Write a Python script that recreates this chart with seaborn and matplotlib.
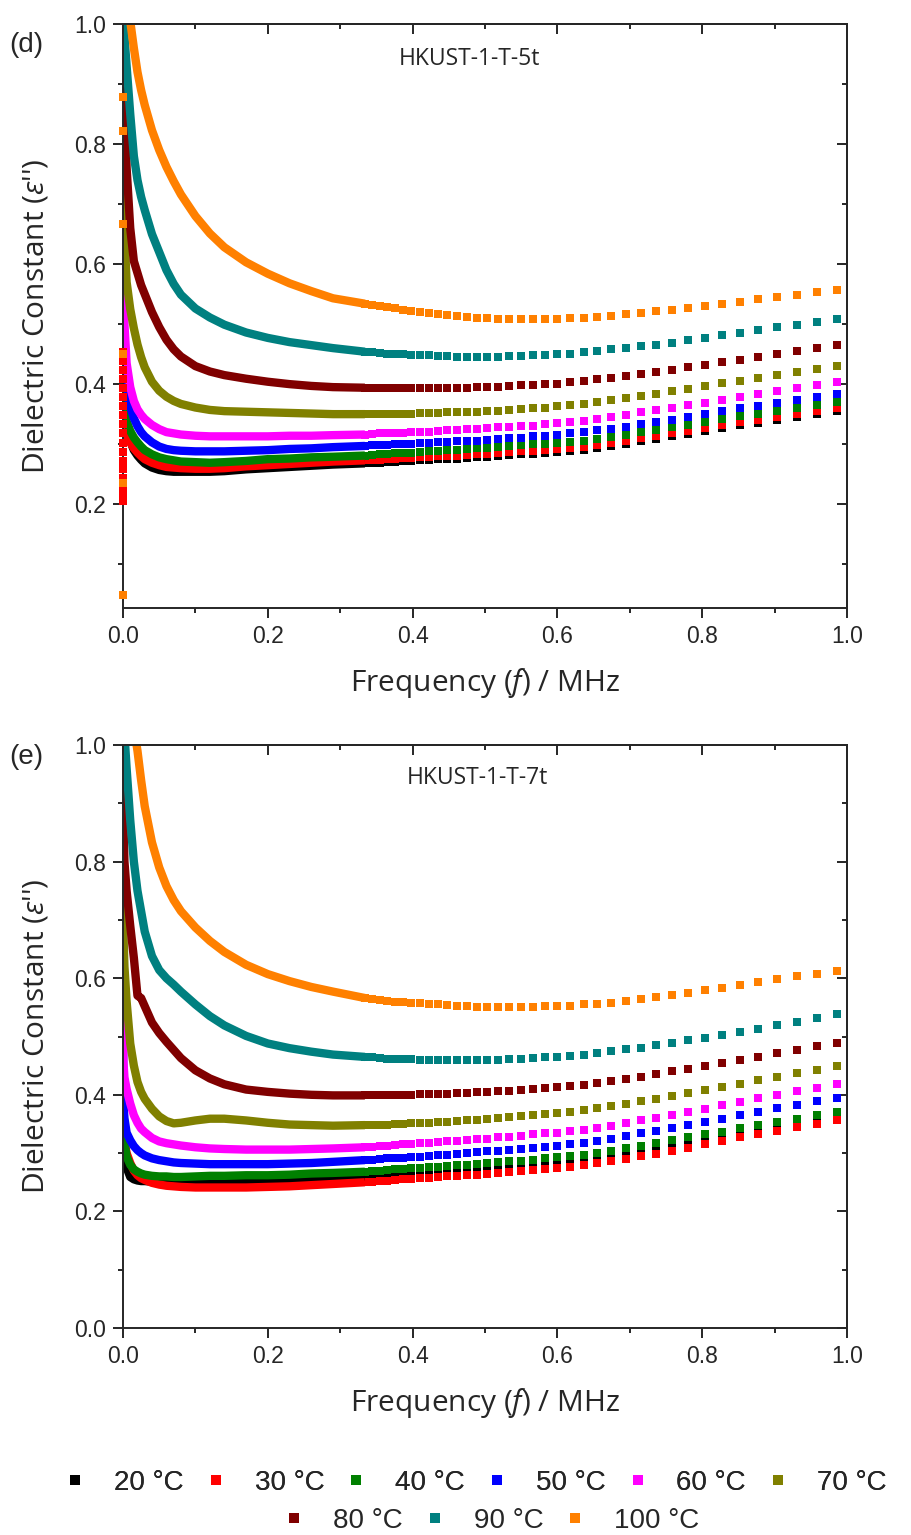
import matplotlib
matplotlib.use("Agg")
import matplotlib.pyplot as plt
import seaborn as sns
from matplotlib.lines import Line2D
from matplotlib.ticker import MultipleLocator

# ---------------- data ----------------
TEMPS = ["20 °C", "30 °C", "40 °C", "50 °C", "60 °C", "70 °C", "80 °C", "90 °C", "100 °C"]
COLORS = ["#000000", "#FF0000", "#008000", "#0000FF", "#FF00FF",
          "#808000", "#800000", "#008080", "#FF8000"]

# dense low-frequency part (MHz) – points overlap into a continuous band
FREQ_LOW = [0.0001, 0.0005, 0.002, 0.005, 0.01, 0.015, 0.02, 0.025, 0.03, 0.04, 0.05,
            0.06, 0.07, 0.08, 0.10, 0.12, 0.14, 0.17, 0.20, 0.23, 0.26, 0.29]
# sparse high-frequency part (MHz) – individually visible square markers
FREQ_HIGH = [0.3341, 0.3440, 0.3543, 0.3648, 0.3756, 0.3868, 0.3983, 0.4101, 0.4223, 0.4348,
             0.4477, 0.4610, 0.4747, 0.4888, 0.5033, 0.5183, 0.5337, 0.5495, 0.5658, 0.5826,
             0.5999, 0.6178, 0.6361, 0.6550, 0.6744, 0.6945, 0.7151, 0.7363, 0.7582, 0.7807,
             0.8039, 0.8278, 0.8524, 0.8777, 0.9038, 0.9306, 0.9582, 0.9867]

# ---- panel (d) HKUST-1-T-5t ----
d20_low = [0.31, 0.318, 0.322, 0.318, 0.305, 0.290, 0.281, 0.274, 0.268, 0.261, 0.257, 0.255, 0.254, 0.254, 0.254, 0.254, 0.255, 0.258, 0.260, 0.262, 0.264, 0.266]
d30_low = [0.36, 0.345, 0.33, 0.316, 0.303, 0.293, 0.286, 0.280, 0.275, 0.269, 0.265, 0.262, 0.261, 0.260, 0.259, 0.259, 0.260, 0.263, 0.265, 0.267, 0.269, 0.271]
d40_low = [0.43, 0.40, 0.37, 0.338, 0.322, 0.311, 0.303, 0.296, 0.290, 0.283, 0.278, 0.275, 0.273, 0.271, 0.270, 0.269, 0.270, 0.272, 0.275, 0.276, 0.278, 0.279]
d50_low = [0.60, 0.46, 0.42, 0.39, 0.362, 0.343, 0.330, 0.320, 0.313, 0.303, 0.296, 0.292, 0.290, 0.289, 0.288, 0.288, 0.288, 0.289, 0.290, 0.292, 0.293, 0.295]
d60_low = [0.75, 0.62, 0.50, 0.435, 0.395, 0.372, 0.358, 0.349, 0.342, 0.332, 0.325, 0.320, 0.318, 0.316, 0.314, 0.313, 0.313, 0.313, 0.313, 0.314, 0.314, 0.315]
d70_low = [0.95, 0.75, 0.65, 0.57, 0.525, 0.493, 0.466, 0.445, 0.428, 0.404, 0.389, 0.379, 0.372, 0.367, 0.361, 0.357, 0.355, 0.354, 0.353, 0.352, 0.351, 0.350]
d80_low = [1.10, 1.02, 0.88, 0.76, 0.66, 0.605, 0.585, 0.565, 0.55, 0.52, 0.495, 0.474, 0.458, 0.446, 0.430, 0.421, 0.415, 0.409, 0.404, 0.400, 0.397, 0.395]
d90_low = [1.08, 1.02, 0.98, 0.93, 0.85, 0.78, 0.74, 0.712, 0.69, 0.65, 0.62, 0.59, 0.567, 0.549, 0.526, 0.511, 0.499, 0.486, 0.477, 0.470, 0.465, 0.460]
d100_low = [1.6, 1.45, 1.25, 1.1, 1.005, 0.96, 0.92, 0.89, 0.865, 0.823, 0.79, 0.762, 0.738, 0.716, 0.680, 0.651, 0.628, 0.603, 0.584, 0.568, 0.555, 0.543]

d20_high = [0.268, 0.269, 0.269, 0.270, 0.271, 0.272, 0.272, 0.273, 0.274, 0.275, 0.275, 0.276, 0.277, 0.278, 0.279, 0.281, 0.282, 0.283, 0.284, 0.286, 0.287, 0.289, 0.291, 0.294, 0.297, 0.301, 0.305, 0.309, 0.313, 0.317, 0.322, 0.327, 0.332, 0.336, 0.341, 0.346, 0.351, 0.356]
d30_high = [0.273, 0.274, 0.274, 0.275, 0.276, 0.277, 0.277, 0.278, 0.279, 0.280, 0.280, 0.281, 0.282, 0.283, 0.284, 0.286, 0.287, 0.288, 0.289, 0.291, 0.292, 0.294, 0.296, 0.299, 0.302, 0.306, 0.310, 0.314, 0.318, 0.322, 0.327, 0.332, 0.337, 0.341, 0.346, 0.351, 0.356, 0.361]
d40_high = [0.281, 0.282, 0.283, 0.284, 0.285, 0.285, 0.286, 0.287, 0.288, 0.289, 0.290, 0.291, 0.292, 0.293, 0.294, 0.296, 0.297, 0.298, 0.300, 0.301, 0.302, 0.304, 0.306, 0.309, 0.312, 0.316, 0.320, 0.324, 0.328, 0.332, 0.337, 0.342, 0.347, 0.351, 0.356, 0.361, 0.366, 0.371]
d50_high = [0.297, 0.298, 0.299, 0.299, 0.300, 0.300, 0.301, 0.302, 0.302, 0.303, 0.304, 0.305, 0.305, 0.306, 0.307, 0.309, 0.310, 0.311, 0.313, 0.314, 0.316, 0.318, 0.320, 0.323, 0.326, 0.329, 0.333, 0.337, 0.341, 0.345, 0.350, 0.355, 0.360, 0.364, 0.369, 0.374, 0.379, 0.384]
d60_high = [0.316, 0.317, 0.318, 0.318, 0.319, 0.319, 0.320, 0.321, 0.321, 0.322, 0.323, 0.324, 0.325, 0.326, 0.327, 0.328, 0.329, 0.330, 0.331, 0.333, 0.335, 0.337, 0.339, 0.342, 0.345, 0.349, 0.353, 0.357, 0.361, 0.365, 0.369, 0.374, 0.379, 0.384, 0.389, 0.394, 0.399, 0.404]
d70_high = [0.350, 0.350, 0.350, 0.351, 0.351, 0.351, 0.351, 0.352, 0.352, 0.352, 0.353, 0.353, 0.354, 0.354, 0.355, 0.356, 0.357, 0.359, 0.360, 0.361, 0.363, 0.365, 0.367, 0.370, 0.373, 0.377, 0.381, 0.384, 0.388, 0.392, 0.397, 0.402, 0.406, 0.411, 0.416, 0.421, 0.426, 0.431]
d80_high = [0.394, 0.394, 0.393, 0.393, 0.393, 0.393, 0.393, 0.393, 0.393, 0.393, 0.394, 0.394, 0.394, 0.395, 0.395, 0.396, 0.397, 0.398, 0.399, 0.400, 0.401, 0.403, 0.405, 0.408, 0.411, 0.414, 0.417, 0.420, 0.424, 0.428, 0.432, 0.437, 0.441, 0.445, 0.450, 0.455, 0.460, 0.466]
d90_high = [0.454, 0.453, 0.452, 0.451, 0.450, 0.450, 0.449, 0.449, 0.448, 0.447, 0.447, 0.446, 0.446, 0.446, 0.446, 0.446, 0.447, 0.447, 0.448, 0.449, 0.450, 0.451, 0.453, 0.455, 0.458, 0.460, 0.463, 0.466, 0.469, 0.473, 0.477, 0.482, 0.486, 0.490, 0.495, 0.499, 0.504, 0.509]
d100_high = [0.534, 0.532, 0.530, 0.528, 0.526, 0.524, 0.522, 0.520, 0.518, 0.516, 0.515, 0.513, 0.512, 0.511, 0.510, 0.509, 0.508, 0.508, 0.508, 0.508, 0.509, 0.510, 0.511, 0.512, 0.514, 0.516, 0.518, 0.521, 0.524, 0.527, 0.530, 0.534, 0.537, 0.541, 0.545, 0.549, 0.553, 0.557]

# stray lowest-frequency points sitting on the y axis in panel (d)
d30_axis = [0.205, 0.215, 0.228, 0.243, 0.258, 0.272, 0.287, 0.302, 0.318, 0.333, 0.348, 0.363, 0.378, 0.393, 0.408, 0.423, 0.438, 0.453]
d100_axis = [0.878, 0.822, 0.667, 0.45, 0.235, 0.048]

# ---- panel (e) HKUST-1-T-7t ----
e20_low = [0.36, 0.33, 0.30, 0.275, 0.259, 0.255, 0.253, 0.252, 0.252, 0.251, 0.251, 0.250, 0.250, 0.250, 0.250, 0.250, 0.251, 0.251, 0.252, 0.254, 0.256, 0.258]
e30_low = [0.37, 0.34, 0.32, 0.30, 0.283, 0.270, 0.262, 0.257, 0.254, 0.249, 0.246, 0.244, 0.243, 0.242, 0.241, 0.241, 0.241, 0.241, 0.242, 0.243, 0.245, 0.247]
e40_low = [0.42, 0.345, 0.32, 0.294, 0.280, 0.272, 0.268, 0.265, 0.263, 0.261, 0.260, 0.260, 0.259, 0.259, 0.260, 0.261, 0.261, 0.262, 0.262, 0.263, 0.265, 0.266]
e50_low = [0.50, 0.385, 0.36, 0.335, 0.322, 0.312, 0.305, 0.300, 0.296, 0.291, 0.288, 0.286, 0.284, 0.283, 0.282, 0.281, 0.281, 0.281, 0.281, 0.282, 0.283, 0.285]
e60_low = [0.70, 0.459, 0.43, 0.41, 0.385, 0.365, 0.352, 0.342, 0.336, 0.326, 0.320, 0.317, 0.315, 0.313, 0.310, 0.308, 0.307, 0.306, 0.306, 0.306, 0.307, 0.308]
e70_low = [0.75, 0.68, 0.62, 0.56, 0.488, 0.45, 0.422, 0.405, 0.393, 0.376, 0.363, 0.355, 0.351, 0.352, 0.356, 0.359, 0.359, 0.356, 0.352, 0.349, 0.348, 0.347]
e80_low = [1.10, 0.87, 0.80, 0.75, 0.69, 0.635, 0.570, 0.566, 0.552, 0.524, 0.506, 0.491, 0.477, 0.463, 0.442, 0.428, 0.418, 0.409, 0.405, 0.402, 0.400, 0.399]
e90_low = [1.10, 1.05, 1.02, 0.96, 0.871, 0.80, 0.75, 0.715, 0.68, 0.638, 0.614, 0.600, 0.589, 0.577, 0.555, 0.535, 0.519, 0.501, 0.488, 0.480, 0.474, 0.469]
e100_low = [1.6, 1.45, 1.3, 1.18, 1.08, 1.03, 0.99, 0.94, 0.895, 0.833, 0.790, 0.758, 0.734, 0.715, 0.687, 0.664, 0.645, 0.623, 0.607, 0.595, 0.585, 0.577]

e20_high = [0.260, 0.261, 0.261, 0.262, 0.263, 0.263, 0.264, 0.265, 0.266, 0.267, 0.268, 0.269, 0.270, 0.272, 0.273, 0.274, 0.275, 0.277, 0.279, 0.281, 0.283, 0.285, 0.287, 0.290, 0.293, 0.297, 0.302, 0.306, 0.311, 0.316, 0.322, 0.328, 0.334, 0.339, 0.345, 0.351, 0.357, 0.363]
e30_high = [0.250, 0.251, 0.252, 0.253, 0.254, 0.255, 0.256, 0.257, 0.258, 0.259, 0.260, 0.261, 0.262, 0.263, 0.264, 0.266, 0.267, 0.269, 0.271, 0.273, 0.275, 0.277, 0.280, 0.283, 0.286, 0.290, 0.295, 0.299, 0.304, 0.309, 0.315, 0.321, 0.327, 0.332, 0.338, 0.344, 0.350, 0.356]
e40_high = [0.268, 0.269, 0.270, 0.271, 0.272, 0.273, 0.274, 0.275, 0.276, 0.277, 0.278, 0.279, 0.280, 0.282, 0.283, 0.284, 0.286, 0.287, 0.289, 0.291, 0.293, 0.295, 0.297, 0.300, 0.304, 0.308, 0.313, 0.317, 0.322, 0.327, 0.332, 0.337, 0.343, 0.348, 0.354, 0.359, 0.365, 0.371]
e50_high = [0.288, 0.289, 0.290, 0.291, 0.292, 0.292, 0.293, 0.294, 0.295, 0.296, 0.297, 0.299, 0.300, 0.302, 0.303, 0.304, 0.305, 0.307, 0.309, 0.311, 0.313, 0.316, 0.318, 0.321, 0.325, 0.329, 0.334, 0.338, 0.343, 0.348, 0.353, 0.359, 0.365, 0.371, 0.377, 0.383, 0.389, 0.395]
e60_high = [0.310, 0.311, 0.312, 0.313, 0.314, 0.315, 0.316, 0.317, 0.318, 0.319, 0.320, 0.321, 0.323, 0.324, 0.325, 0.327, 0.328, 0.330, 0.332, 0.334, 0.335, 0.338, 0.340, 0.343, 0.347, 0.351, 0.356, 0.360, 0.365, 0.370, 0.376, 0.382, 0.388, 0.394, 0.400, 0.406, 0.412, 0.418]
e70_high = [0.348, 0.348, 0.349, 0.349, 0.350, 0.350, 0.351, 0.352, 0.352, 0.353, 0.354, 0.355, 0.356, 0.357, 0.359, 0.360, 0.362, 0.363, 0.365, 0.367, 0.368, 0.371, 0.374, 0.377, 0.381, 0.385, 0.389, 0.393, 0.398, 0.403, 0.408, 0.413, 0.419, 0.425, 0.431, 0.437, 0.443, 0.450]
e80_high = [0.399, 0.399, 0.399, 0.400, 0.400, 0.400, 0.400, 0.401, 0.401, 0.401, 0.402, 0.403, 0.403, 0.404, 0.405, 0.406, 0.407, 0.408, 0.410, 0.411, 0.413, 0.415, 0.417, 0.420, 0.424, 0.427, 0.431, 0.435, 0.440, 0.444, 0.449, 0.454, 0.459, 0.465, 0.471, 0.477, 0.483, 0.489]
e90_high = [0.465, 0.464, 0.463, 0.462, 0.462, 0.461, 0.461, 0.460, 0.460, 0.459, 0.459, 0.459, 0.459, 0.459, 0.460, 0.460, 0.461, 0.462, 0.463, 0.464, 0.465, 0.467, 0.469, 0.472, 0.475, 0.478, 0.481, 0.485, 0.489, 0.494, 0.498, 0.503, 0.508, 0.513, 0.519, 0.525, 0.531, 0.538]
e100_high = [0.566, 0.564, 0.562, 0.561, 0.560, 0.559, 0.558, 0.557, 0.556, 0.555, 0.554, 0.553, 0.552, 0.551, 0.551, 0.551, 0.551, 0.551, 0.551, 0.552, 0.552, 0.553, 0.555, 0.556, 0.558, 0.561, 0.564, 0.567, 0.571, 0.575, 0.579, 0.584, 0.588, 0.593, 0.598, 0.603, 0.608, 0.613]

D_LOW = [d20_low, d30_low, d40_low, d50_low, d60_low, d70_low, d80_low, d90_low, d100_low]
D_HIGH = [d20_high, d30_high, d40_high, d50_high, d60_high, d70_high, d80_high, d90_high, d100_high]
E_LOW = [e20_low, e30_low, e40_low, e50_low, e60_low, e70_low, e80_low, e90_low, e100_low]
E_HIGH = [e20_high, e30_high, e40_high, e50_high, e60_high, e70_high, e80_high, e90_high, e100_high]

# ---------------- style ----------------
sns.set_style("ticks")
plt.rcParams["font.family"] = ["Liberation Sans", "DejaVu Sans"]
plt.rcParams["mathtext.fontset"] = "custom"
plt.rcParams["mathtext.it"] = "Open Sans:italic"
plt.rcParams["mathtext.rm"] = "Open Sans"
plt.rcParams["axes.linewidth"] = 1.4

W, H = 911, 1535
fig = plt.figure(figsize=(W / 100, H / 100), dpi=100)
ax_d = fig.add_axes([123 / W, 1 - 608 / H, 724 / W, 584 / H])
ax_e = fig.add_axes([123 / W, 1 - 1328 / H, 724 / W, 583 / H])

LW = 6.0
MS = 36


def draw(ax, lows, highs):
    for lo, hi, col in zip(lows, highs, COLORS):
        sns.lineplot(x=FREQ_LOW + FREQ_HIGH[:1], y=lo + hi[:1], color=col, lw=LW,
                     sort=False, estimator=None, ax=ax, legend=False,
                     solid_capstyle="butt", solid_joinstyle="round")
        sns.scatterplot(x=FREQ_HIGH, y=hi, color=col, marker="s", s=MS,
                        linewidth=0, ax=ax, legend=False)


def style_axes(ax, ymin, label_text, title_pos):
    ax.set_xlim(0, 1.0)
    ax.set_ylim(ymin, 1.0)
    ax.xaxis.set_major_locator(MultipleLocator(0.2))
    ax.xaxis.set_minor_locator(MultipleLocator(0.1))
    ax.yaxis.set_major_locator(MultipleLocator(0.2))
    ax.yaxis.set_minor_locator(MultipleLocator(0.1))
    ax.tick_params(which="both", direction="out", width=1.4, labelsize=16.5, pad=5)
    ax.tick_params(which="major", length=7)
    ax.tick_params(which="minor", length=3.5)
    for s in ax.spines.values():
        s.set_visible(True)
        s.set_linewidth(1.4)
    ax.set_yticks([t for t in [0.0, 0.2, 0.4, 0.6, 0.8, 1.0] if t >= ymin - 1e-9])
    ax.yaxis.set_major_formatter(plt.FuncFormatter(lambda v, p: f"{v:.1f}"))
    ax.xaxis.set_major_formatter(plt.FuncFormatter(lambda v, p: f"{v:.1f}"))
    secx = ax.secondary_xaxis("top")
    secx.xaxis.set_major_locator(MultipleLocator(0.2))
    secx.xaxis.set_minor_locator(MultipleLocator(0.1))
    secx.tick_params(which="both", direction="in", labeltop=False, width=1.4)
    secx.tick_params(which="major", length=7)
    secx.tick_params(which="minor", length=3.5)
    secy = ax.secondary_yaxis("right")
    secy.yaxis.set_major_locator(MultipleLocator(0.2))
    secy.yaxis.set_minor_locator(MultipleLocator(0.1))
    secy.tick_params(which="both", direction="in", labelright=False, width=1.4)
    secy.tick_params(which="major", length=7)
    secy.tick_params(which="minor", length=3.5)
    ax.set_xlabel("Frequency ($f$) / MHz", fontsize=21.5, fontfamily="Open Sans")
    ax.set_ylabel("Dielectric Constant ($\\varepsilon$'')", fontsize=21.5, fontfamily="Open Sans")
    ax.xaxis.set_label_coords(0.5, -0.100)
    ax.yaxis.set_label_coords(-0.100, 0.5)
    ax.text(title_pos[0], title_pos[1], label_text, transform=ax.transAxes,
            ha="center", va="center", fontsize=16.5, fontfamily="Open Sans")


draw(ax_d, D_LOW, D_HIGH)
sns.scatterplot(x=[0.0] * len(d30_axis), y=d30_axis, color=COLORS[1], marker="s", s=MS,
                linewidth=0, ax=ax_d, legend=False, clip_on=False, zorder=3)
sns.scatterplot(x=[0.0] * len(d100_axis), y=d100_axis, color=COLORS[8], marker="s", s=MS,
                linewidth=0, ax=ax_d, legend=False, clip_on=False, zorder=3)
style_axes(ax_d, 0.027, "HKUST-1-T-5t", (0.479, 0.940))

draw(ax_e, E_LOW, E_HIGH)
style_axes(ax_e, 0.0, "HKUST-1-T-7t", (0.490, 0.943))

fig.text(26 / W, 1 - 45 / H, "(d)", ha="center", va="center", fontsize=20)
fig.text(26 / W, 1 - 757 / H, "(e)", ha="center", va="center", fontsize=20)

# ---------------- legend (two centred rows) ----------------
handles = [Line2D([], [], ls="none", marker="s", markersize=7.5, color=c, markeredgewidth=0)
           for c in COLORS]
leg_kw = dict(loc="center", frameon=False, fontsize=20, handlelength=1.0,
              handletextpad=0.9, columnspacing=0.65, borderpad=0.0)
leg1 = fig.legend(handles[:6], TEMPS[:6], ncol=6,
                  bbox_to_anchor=(474 / W, 1 - 1483 / H), **leg_kw)
fig.add_artist(leg1)
fig.legend(handles[6:], TEMPS[6:], ncol=3,
           bbox_to_anchor=(490 / W, 1 - 1521 / H), **leg_kw)

fig.savefig("out.png", dpi=100)
